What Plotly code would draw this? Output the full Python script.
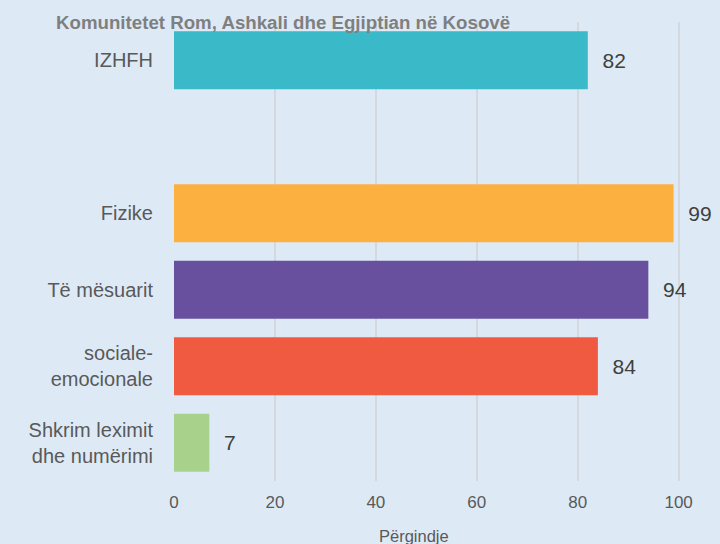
import plotly.graph_objects as go

# data, top to bottom (blank slot separates the summary bar)
categories = ["IZHFH", " ", "Fizike", "Të mësuarit", "sociale-<br>emocionale", "Shkrim leximit<br>dhe numërimi"]
values = [82, None, 99, 94, 84, 7]
colors = ["#3AB9C8", "#3AB9C8", "#FBB040", "#68509F", "#F05A40", "#A8D18C"]
x_ticks = [0, 20, 40, 60, 80, 100]

title_text = "Komunitetet Rom, Ashkali dhe Egjiptian në Kosovë"
x_title = "Përgindje"

font_main = "Liberation Sans, Arial, sans-serif"

fig = go.Figure()
fig.add_trace(go.Bar(
    y=categories, x=values, orientation="h",
    marker=dict(color=colors, line=dict(width=0)),
    width=0.76,
    text=[("" if v is None else "  " + str(v)) for v in values],
    textposition="outside",
    textfont=dict(family=font_main, size=21, color="#404040"),
    cliponaxis=False,
    hoverinfo="x+y",
))

fig.update_layout(
    width=720, height=544,
    paper_bgcolor="#DDEAF6", plot_bgcolor="#DDEAF6",
    margin=dict(l=174, r=1, t=22, b=63),
    showlegend=False,
    font=dict(family=font_main, color="#595959"),
    annotations=[
        dict(text="<b>" + title_text + "</b>", xref="paper", yref="paper",
             x=-120 / 545, y=1, xanchor="left", yanchor="middle", yshift=0,
             showarrow=False, font=dict(family=font_main, size=18.7, color="#7F7F7F")),
        dict(text=x_title, xref="paper", yref="paper", x=0.44, y=0, xanchor="center",
             yanchor="top", yshift=-44, showarrow=False,
             font=dict(family=font_main, size=16.5, color="#595959")),
    ],
)
fig.update_xaxes(
    range=[0, 108], tickvals=x_ticks, showgrid=True, gridcolor="#D3D9DF", gridwidth=1.5,
    zeroline=False, showline=False, ticks="", ticklabelstandoff=9,
    tickfont=dict(family=font_main, size=17, color="#595959"),
)
fig.update_yaxes(
    categoryorder="array", categoryarray=categories[::-1], autorange=True,
    showgrid=False, zeroline=False, showline=False, ticks="", ticklabelstandoff=20,
    tickfont=dict(family=font_main, size=20, color="#595959"),
)

fig.write_html("out.html", config={"displayModeBar": False},
               post_script="document.body.style.margin='0';")
